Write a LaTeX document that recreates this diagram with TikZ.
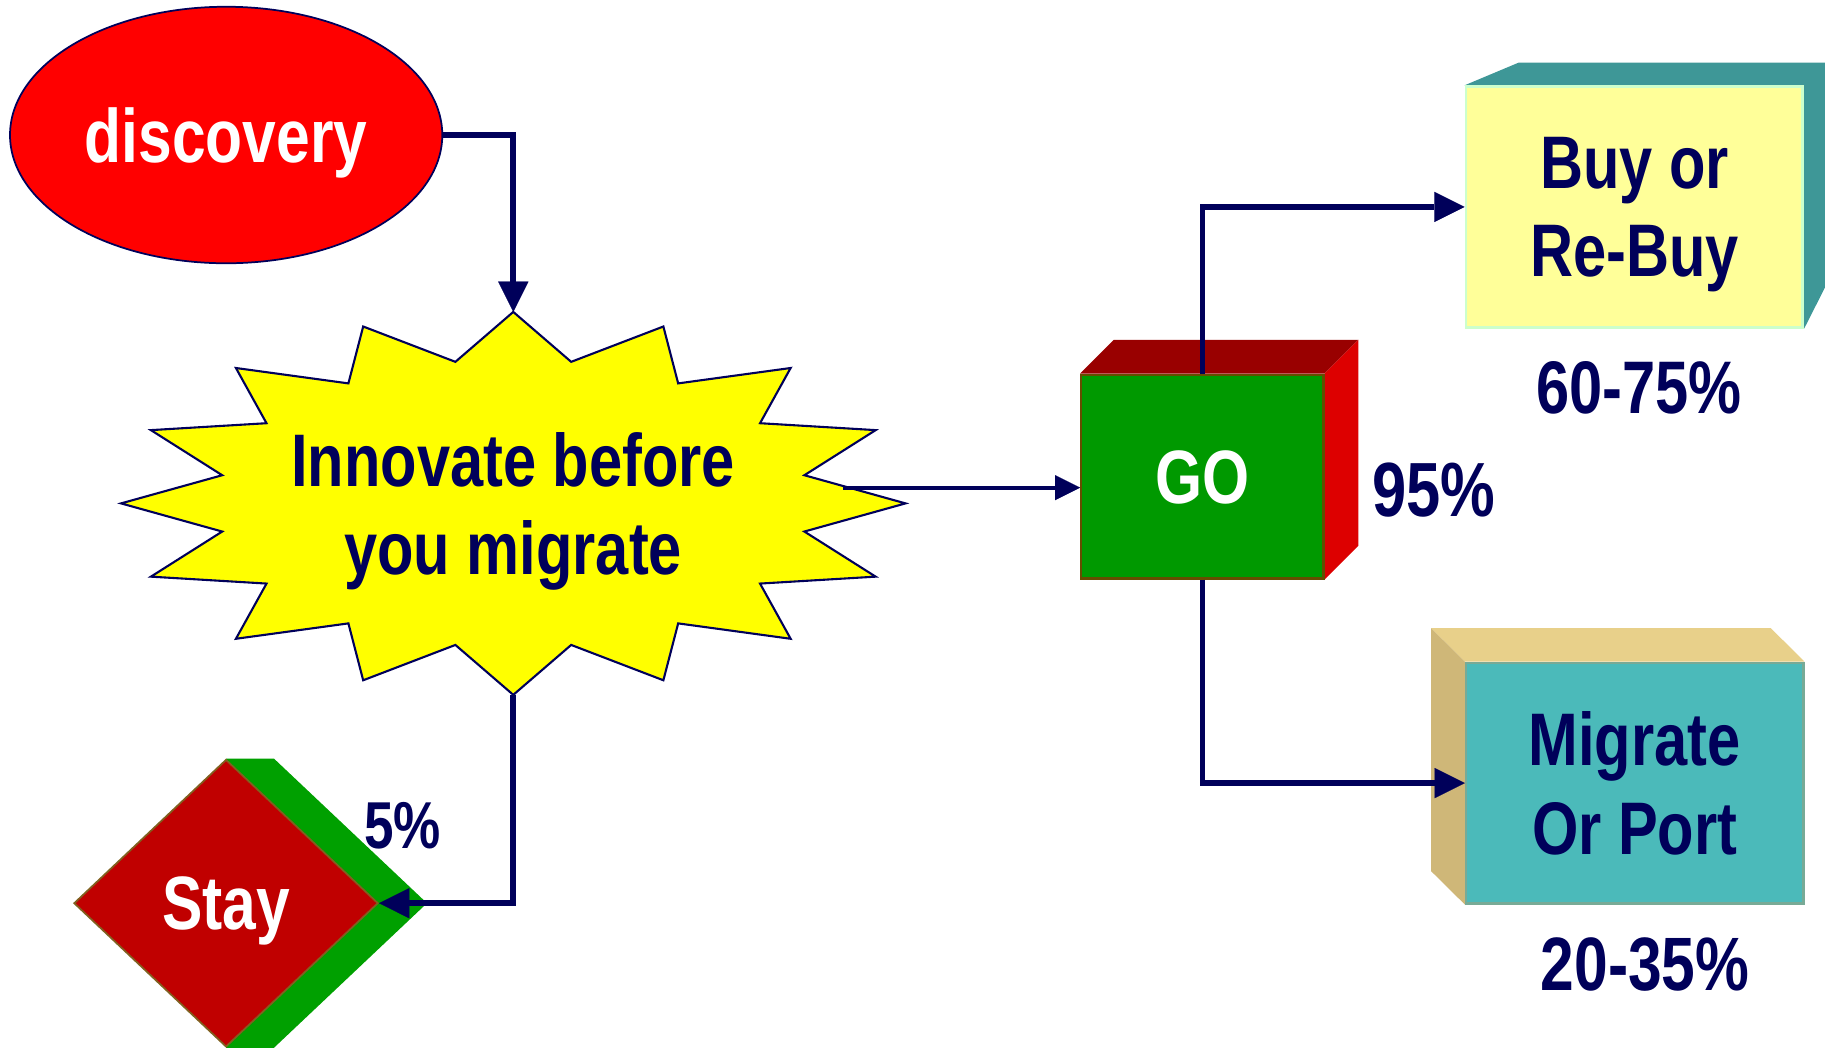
\documentclass[tikz,border=0pt]{standalone}
\usepackage{fontspec}
\setmainfont{Liberation Sans}[FakeStretch=0.8]
\usepackage{tikz}
\usetikzlibrary{arrows.meta}
\usetikzlibrary{backgrounds}
\usetikzlibrary{shapes.geometric}
\usetikzlibrary{positioning}

\definecolor{navy}{RGB}{0,0,90}
\definecolor{discRed}{RGB}{255,0,0}
\definecolor{burstYellow}{RGB}{255,255,0}
\definecolor{goFront}{RGB}{0,153,0}
\definecolor{goEdge}{RGB}{102,77,0}
\definecolor{goTop}{RGB}{153,0,0}
\definecolor{goSide}{RGB}{221,0,0}
\definecolor{stayFill}{RGB}{192,0,0}
\definecolor{stayEdge}{RGB}{128,96,32}
\definecolor{staySide}{RGB}{0,160,0}
\definecolor{buyFront}{RGB}{255,255,153}
\definecolor{buyEdge}{RGB}{204,255,204}
\definecolor{buySide}{RGB}{62,151,151}
\definecolor{migFront}{RGB}{75,186,186}
\definecolor{migEdge}{RGB}{120,170,150}
\definecolor{migTop}{RGB}{232,208,138}
\definecolor{migSide}{RGB}{207,183,120}

\begin{document}
\begin{tikzpicture}[x=1pt,y=-1pt,every node/.style={inner sep=0pt,text depth=0pt,align=center,font=\fontsize{64}{76}\selectfont\bfseries},lbl/.style={text=navy},flow/.style={draw=navy,line width=4.8pt,-{Triangle[length=26pt,width=26pt,line width=0.1pt]}},flowthin/.style={draw=navy,line width=3.2pt,-{Triangle[length=21.5pt,width=21.5pt,line width=0.1pt]}}]

	\useasboundingbox (0,0) rectangle (1568,901);

	% start
	\node[ellipse,minimum width=371.4pt,minimum height=220.4pt,fill=discRed,draw=navy,line width=1.5pt,text=white,font=\fontsize{65}{78}\selectfont\bfseries] (disc) at (194.3,116) {discovery};

	% the burst
	\draw[fill=burstYellow,draw=navy,line width=1.8pt] (441,268) \foreach \k in {1,...,31} { -- ({441+(isodd(\k)?255:337)*sin(11.25*\k)},{432.5-(isodd(\k)?124:164.5)*cos(11.25*\k)}) } -- cycle;
	\coordinate (bursttop) at (441,268);
	\coordinate (burstbot) at (441,597);
	\coordinate (burstout) at (724,419);
	\node[lbl] (innov) at (441,432.5) {Innovate before\\you migrate};

	% outcomes
	\node[diamond,minimum width=261.4pt,minimum height=246.9pt,fill=stayFill,draw=stayEdge,line width=1.5pt,text=white,font=\fontsize{65}{78}\selectfont\bfseries] (stay) at (194.2,776) {Stay};
	\node[rectangle,minimum width=208pt,minimum height=175pt,fill=goFront,draw=goEdge,line width=2pt,text=white,font=\fontsize{65}{78}\selectfont\bfseries] (go) at (1033,409.5) {GO};
	\node[lbl,rectangle,minimum width=289.3pt,minimum height=206.5pt,fill=buyFront,draw=buyEdge,line width=2.5pt] (buy) at (1404.2,177.8) {Buy or\\Re-Buy};
	\node[lbl,rectangle,minimum width=289.9pt,minimum height=206.7pt,fill=migFront,draw=migEdge,line width=2pt] (mig) at (1404.5,672.8) {Migrate\\Or Port};

	\begin{scope}[on background layer]
		\fill[staySide] (stay.north) -- ([xshift=41.2pt]stay.north) -- ([xshift=41.2pt]stay.east) -- ([xshift=41.2pt]stay.south) -- (stay.south) -- cycle;
		\fill[goTop] (go.north west) -- ([shift={(29,-29)}]go.north west) -- ([shift={(29,-29)}]go.north east) -- (go.north east) -- cycle;
		\fill[goSide] (go.north east) -- ([shift={(29,-29)}]go.north east) -- ([shift={(29,-29)}]go.south east) -- (go.south east) -- cycle;
		\fill[buySide] (buy.north west) -- ([shift={(46.5,-19.5)}]buy.north west) -- ([shift={(19.6,-19.5)}]buy.north east) -- ([shift={(19.6,-38.7)}]buy.south east) -- (buy.south east) -- (buy.north east) -- cycle;
		\fill[migTop] (mig.north west) -- ([shift={(-29,-28.7)}]mig.north west) -- ([shift={(-29,-28.7)}]mig.north east) -- (mig.north east) -- cycle;
		\fill[migSide] (mig.north west) -- ([shift={(-29,-28.7)}]mig.north west) -- ([shift={(-29,-28.7)}]mig.south west) -- (mig.south west) -- cycle;
	\end{scope}

	% connectors
	\draw[flow] (disc.east) -| (bursttop);
	\draw[flow] (burstbot) |- (stay.east);
	\draw[flowthin] (burstout) -- (burstout -| go.west);
	\draw[flow] (go.north) |- (buy.west);
	\draw[flow] (go.south) |- (mig.west);

	% shares
	\node[lbl,font=\fontsize{57}{68}\selectfont\bfseries] (pctstay) at (346,709.5) {5\%};
	\node[lbl,font=\fontsize{66}{79}\selectfont\bfseries] (pctgo) at (1232,421) {95\%};
	\node[lbl] (pctbuy) at (1408,332.8) {60-75\%};
	\node[lbl,font=\fontsize{65}{78}\selectfont\bfseries] (pctmig) at (1413.4,828.7) {20-35\%};
\end{tikzpicture}
\end{document}
